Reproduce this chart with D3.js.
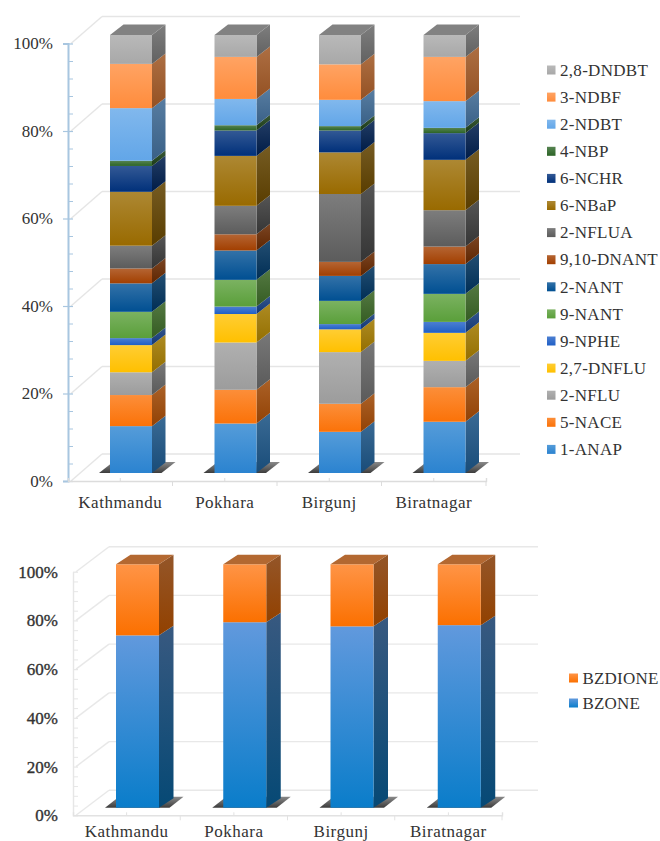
<!DOCTYPE html>
<html>
<head>
<meta charset="utf-8">
<script src="https://cdn.jsdelivr.net/npm/d3@7/dist/d3.min.js"></script>
<style>
  html, body { margin: 0; padding: 0; background: #fff; overflow: hidden; }
  text { font-family: "Liberation Serif", serif; fill: #333; }
</style>
</head>
<body>
<svg id="chart" width="660" height="841"></svg>
<script>
// Cities shared by both panels
const cities = ["Kathmandu", "Pokhara", "Birgunj", "Biratnagar"];

// Nitro-PAH composition, % of total per city
const pahSpecies = ["1-ANAP", "5-NACE", "2-NFLU", "2,7-DNFLU", "9-NPHE", "9-NANT", "2-NANT",
  "9,10-DNANT", "2-NFLUA", "6-NBaP", "6-NCHR", "4-NBP", "2-NDBT", "3-NDBF", "2,8-DNDBT"];
const kathmanduPah  = [10.7, 7.1, 5.2, 6.2, 1.6, 6.0, 6.5, 3.4, 5.2, 12.3, 5.9, 1.2, 12.0, 10.1, 6.6];
const pokharaPah    = [11.3, 7.7, 10.8, 6.5, 1.7, 6.1, 6.7, 3.7, 6.5, 11.4, 5.8, 1.2, 6.0, 9.6, 5.0];
const birgunjPah    = [9.4, 6.4, 11.8, 5.2, 1.2, 5.3, 5.7, 3.2, 15.5, 9.5, 5.0, 1.0, 6.0, 8.1, 6.7];
const biratnagarPah = [11.7, 7.9, 6.0, 6.4, 2.5, 6.4, 6.8, 4.0, 8.3, 11.5, 6.1, 1.2, 6.1, 10.1, 5.0];
const pahColors = ["#2b83d0", "#fb7208", "#9c9c9c", "#ffc000", "#1f5fc6", "#5a9f3a", "#004f92",
  "#a23f00", "#5c5c5c", "#996a00", "#00307a", "#2c6426", "#62a6e8", "#ff8c3c", "#a8a8a8"];
const pahTopColors = pahColors.map(c => d3.interpolateRgb(c, "#fff")(0.2));

// Oxy-PAH composition, % of total per city
const oxySpecies = ["BZONE", "BZDIONE"];
const bzone   = [70.8, 76.2, 74.5, 75.0];
const bzdione = [29.2, 23.8, 25.5, 25.0];
const oxyColors = ["#0a7dca", "#fb7000"];
const oxyTopColors = ["#6199dd", "#ff9446"];

const percentTicks = [0, 20, 40, 60, 80, 100];
const minorPercentTicks = d3.range(0, 101, 4).filter(v => v % 20 !== 0);

const svg = d3.select("#chart");
const defs = svg.append("defs");
let gradientCount = 0;

// Vertical gradient running from the top colour to the bottom colour
function verticalGradient(top, bottom) {
  const id = "grad" + (gradientCount++);
  const g = defs.append("linearGradient").attr("id", id)
    .attr("x1", 0).attr("y1", 0).attr("x2", 0).attr("y2", 1);
  g.append("stop").attr("offset", "0%").attr("stop-color", top);
  g.append("stop").attr("offset", "100%").attr("stop-color", bottom);
  return `url(#${id})`;
}

const tint = (c, t) => d3.interpolateRgb(c, "#fff")(t);
const shade = (c, t) => d3.interpolateRgb(c, "#000")(t);
const polygon = pts => "M" + pts.map(p => p.join(",")).join("L") + "Z";

function drawPanel(cfg) {
  const { keys, rows, colors, topColors } = cfg;
  const root = svg.append("g");

  // Front plane scales: the percentage axis and the category floor edge
  const y = d3.scaleLinear().domain([0, 100]).range([cfg.axisBottom, cfg.axisTop]);
  const x = d3.scaleBand().domain(cities).range([cfg.axisLeft, cfg.axisRight]);
  // Bars stand part-way back in the box, so they use their own vertical range
  const yBar = d3.scaleLinear().domain([0, 100]).range([cfg.barBottom, cfg.barTop]);

  // Back wall gridlines and the diagonals that join them to the axis
  const wall = root.append("g").attr("fill", "none").attr("stroke", cfg.gridColor).attr("stroke-width", 1.4);
  percentTicks.forEach(v => {
    const front = y(v), back = front - cfg.wallDy;
    wall.append("line").attr("x1", cfg.axisLeft + cfg.wallDx).attr("x2", cfg.axisRight + cfg.wallDx)
      .attr("y1", back).attr("y2", back);
    wall.append("line").attr("x1", cfg.axisLeft + 3).attr("x2", cfg.axisLeft + cfg.wallDx)
      .attr("y1", front).attr("y2", back);
  });

  // Percentage axis with major and minor ticks
  const axisY = root.append("g").attr("transform", `translate(${cfg.axisLeft},0)`)
    .call(d3.axisLeft(y).tickValues(percentTicks).tickFormat(d => d + "%").tickSize(cfg.majorTick).tickPadding(cfg.yPad));
  axisY.select(".domain").attr("stroke", cfg.axisColor).attr("stroke-width", cfg.axisWidth);
  axisY.selectAll(".tick line").attr("stroke", cfg.axisColor).attr("stroke-width", 1.2).attr("x2", 5).attr("x1", -cfg.majorTick);
  axisY.selectAll("text").attr("font-size", 17).attr("fill", "#333")
    .attr("font-family", "Liberation Serif").attr("stroke", "#333").attr("stroke-width", cfg.labelStroke);
  const minorY = root.append("g").attr("transform", `translate(${cfg.axisLeft},0)`)
    .call(d3.axisRight(y).tickValues(minorPercentTicks).tickFormat("").tickSize(5));
  minorY.select(".domain").remove();
  minorY.selectAll(".tick line").attr("stroke", cfg.axisColor).attr("stroke-width", 1);

  // Floor edge with ticks between categories and at their centres
  const axisX = root.append("g").attr("transform", `translate(0,${cfg.axisBottom})`)
    .call(d3.axisBottom(x).tickSize(-3).tickPadding(cfg.xPad));
  axisX.select(".domain").attr("stroke", cfg.floorColor).attr("stroke-width", 1.4);
  axisX.selectAll(".tick line").attr("stroke", cfg.floorColor);
  axisX.selectAll("text").attr("font-size", 17).attr("fill", "#333")
    .attr("font-family", "Liberation Serif").style("letter-spacing", "0.5px");
  cities.forEach(c => {
    const edge = x(c) + x.bandwidth();
    axisX.append("line").attr("x1", edge).attr("x2", edge).attr("y1", 0).attr("y2", 5)
      .attr("stroke", cfg.floorColor).attr("stroke-width", 1);
  });

  const table = cities.map((c, i) => {
    const row = { city: c };
    keys.forEach((k, j) => { row[k] = rows[i][j]; });
    return row;
  });
  const layers = d3.stack().keys(keys)(table);

  const fronts = colors.map((c, j) => verticalGradient(topColors[j], c));
  const sides = colors.map((c, j) => verticalGradient(shade(topColors[j], cfg.sideTop), shade(c, cfg.sideBottom)));
  const shadowFill = verticalGradient("#8a8a8a", "#3c3c3c");

  // One group per city: floor shadow first, then stacked faces from the bottom up
  cities.forEach((c, i) => {
    const x0 = x(c) + cfg.barShift, x1 = x0 + cfg.barWidth;
    const xs = x1 + cfg.depthX, dy = cfg.depthY;
    const bar = root.append("g");
    const base = yBar(0);
    bar.append("path")
      .attr("d", polygon([[x0 - 11, base], [x0 + 3, base - 11], [xs + 10, base - 11], [xs - 4, base]]))
      .attr("fill", shadowFill);

    layers.forEach((layer, j) => {
      const top = yBar(layer[i][1]), bottom = yBar(layer[i][0]);
      bar.append("path").attr("d", polygon([[x1, top], [xs, top - dy], [xs, bottom - dy], [x1, bottom]]))
        .attr("fill", sides[j]);
      bar.append("rect").attr("x", x0).attr("y", top).attr("width", cfg.barWidth).attr("height", bottom - top)
        .attr("fill", fronts[j]);
    });

    const last = layers[layers.length - 1];
    const top = yBar(last[i][1]);
    bar.append("path")
      .attr("d", polygon([[x0, top], [x0 + cfg.depthX, top - dy], [xs, top - dy], [x1, top]]))
      .attr("fill", shade(topColors[topColors.length - 1], 0.3));
  });

  // Legend lists the series from the top of the stack downwards
  const legendKeys = keys.slice().reverse();
  const legend = root.append("g").selectAll("g").data(legendKeys).join("g")
    .attr("transform", (d, i) => `translate(${cfg.legendX},${cfg.legendY + i * cfg.legendStep})`);
  legend.append("rect").attr("x", 0).attr("y", -4.5).attr("width", cfg.swatch).attr("height", 9)
    .attr("fill", d => fronts[keys.indexOf(d)]);
  legend.append("text").attr("x", cfg.swatch + 4.5).attr("y", 0).attr("dy", "0.34em")
    .attr("font-size", 17).style("letter-spacing", cfg.legendSpacing).text(d => d);
}

drawPanel({
  keys: pahSpecies,
  rows: [kathmanduPah, pokharaPah, birgunjPah, biratnagarPah],
  colors: pahColors,
  topColors: pahTopColors,
  axisLeft: 68, axisRight: 486, axisTop: 43.5, axisBottom: 481,
  barTop: 35, barBottom: 473, barShift: 42, barWidth: 42, depthX: 13.5, depthY: 10.5,
  wallDx: 34, wallDy: 27,
  gridColor: "#e5e5e5", axisColor: "#a8c6e0", floorColor: "#dcdcdc", axisWidth: 2,
  majorTick: 5, yPad: 10, xPad: 15, labelStroke: 0,
  sideTop: 0.32, sideBottom: 0.42,
  legendX: 547, legendY: 70, legendStep: 27.1, swatch: 8.5, legendSpacing: "0.3px"
});

drawPanel({
  keys: oxySpecies,
  rows: [[bzone[0], bzdione[0]], [bzone[1], bzdione[1]], [bzone[2], bzdione[2]], [bzone[3], bzdione[3]]],
  colors: oxyColors,
  topColors: oxyTopColors,
  axisLeft: 73, axisRight: 502, axisTop: 571.7, axisBottom: 815.3,
  barTop: 564.3, barBottom: 807.7, barShift: 43, barWidth: 43, depthX: 14.5, depthY: 9.5,
  wallDx: 36, wallDy: 25,
  gridColor: "#e8e8e8", axisColor: "#e6e6e6", floorColor: "#e2e2e2", axisWidth: 1.4,
  majorTick: 0, yPad: 15, xPad: 9.5, labelStroke: 0.35,
  sideTop: 0.42, sideBottom: 0.42,
  legendX: 569, legendY: 678, legendStep: 25, swatch: 9, legendSpacing: "0.2px"
});
</script>
</body>
</html>
